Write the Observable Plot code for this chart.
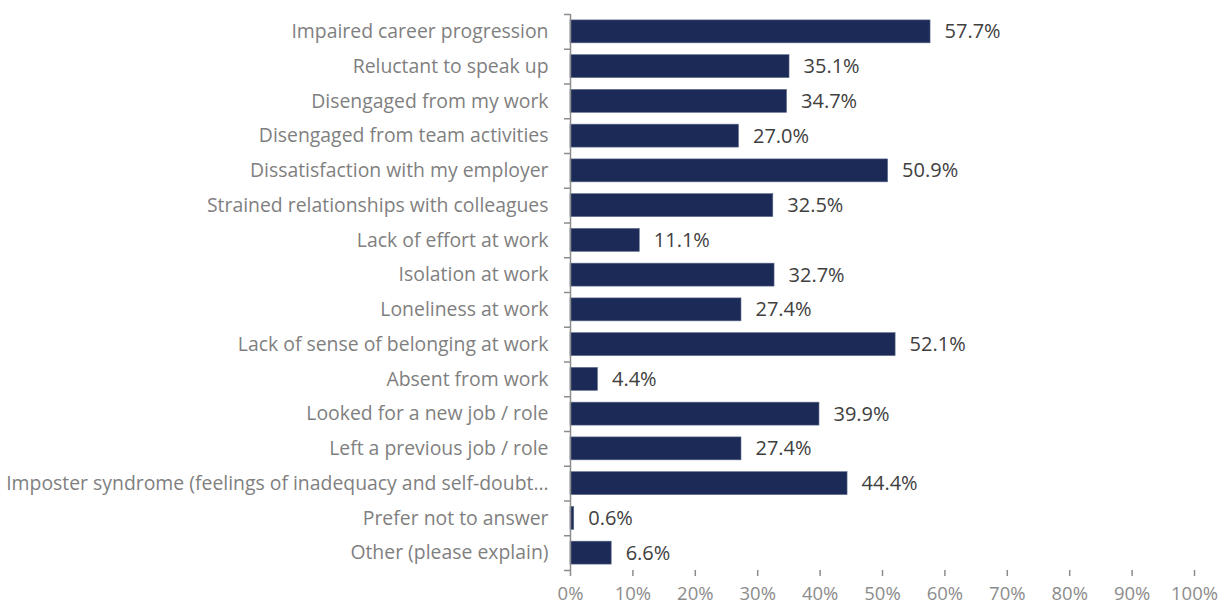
<!DOCTYPE html>
<html>
<head>
<meta charset="utf-8">
<script src="https://cdn.jsdelivr.net/npm/d3@7"></script>
<script src="https://cdn.jsdelivr.net/npm/@observablehq/plot@0.6"></script>
<style>
  html, body { margin: 0; padding: 0; background: #fff; }
  #chart svg { display: block; }
</style>
</head>
<body>
<div id="chart"></div>
<script>
const categories = [
  "Impaired career progression",
  "Reluctant to speak up",
  "Disengaged from my work",
  "Disengaged from team activities",
  "Dissatisfaction with my employer",
  "Strained relationships with colleagues",
  "Lack of effort at work",
  "Isolation at work",
  "Loneliness at work",
  "Lack of sense of belonging at work",
  "Absent from work",
  "Looked for a new job / role",
  "Left a previous job / role",
  "Imposter syndrome (feelings of inadequacy and self-doubt…",
  "Prefer not to answer",
  "Other (please explain)"
];
const values = [57.7, 35.1, 34.7, 27.0, 50.9, 32.5, 11.1, 32.7, 27.4, 52.1, 4.4, 39.9, 27.4, 44.4, 0.6, 6.6];
const xTicks = [0, 10, 20, 30, 40, 50, 60, 70, 80, 90, 100];

const data = categories.map((c, i) => ({category: c, value: values[i]}));

const W = 1227, H = 607;
const mTop = 14, mBottom = 37;
const step = (H - mTop - mBottom) / categories.length;
const font = "'Open Sans', sans-serif";

const chart = Plot.plot({
  width: W,
  height: H,
  marginLeft: 570,
  marginRight: 33,
  marginTop: mTop,
  marginBottom: mBottom,
  style: {fontFamily: font, fontSize: "19px", background: "#fff"},
  x: {domain: [0, 100]},
  y: {domain: categories, paddingInner: 0.34, paddingOuter: 0.17, round: false},
  marks: [
    Plot.barX(data, {x: "value", y: "category", fill: "#1b2a56", stroke: "#5d6b8c", strokeWidth: 0.6}),
    Plot.text(data, {x: "value", y: "category", text: d => d.value.toFixed(1) + "%", textAnchor: "start", dx: 14, fill: "#404040", fontSize: 20}),
    Plot.ruleX([0], {stroke: "#8c8c8c", strokeWidth: 1.5}),
    Plot.axisX({ticks: xTicks, tickFormat: d => d + "%", tickSize: 6, tickPadding: 10, stroke: "#8c8c8c", strokeWidth: 1.5, fill: "#8c8c8c", fontSize: 18.5, label: null}),
    Plot.axisY({tickSize: 0, tickPadding: 22, fill: "#7f7f7f", fontSize: 19.4, label: null}),
    Plot.axisY({tickSize: 6, text: null, dy: -step / 2, stroke: "#8c8c8c", strokeWidth: 1.5, label: null}),
    Plot.axisY([categories[categories.length - 1]], {tickSize: 6, text: null, dy: step / 2, stroke: "#8c8c8c", strokeWidth: 1.5, label: null})
  ]
});
document.getElementById("chart").appendChild(chart);
</script>
</body>
</html>
